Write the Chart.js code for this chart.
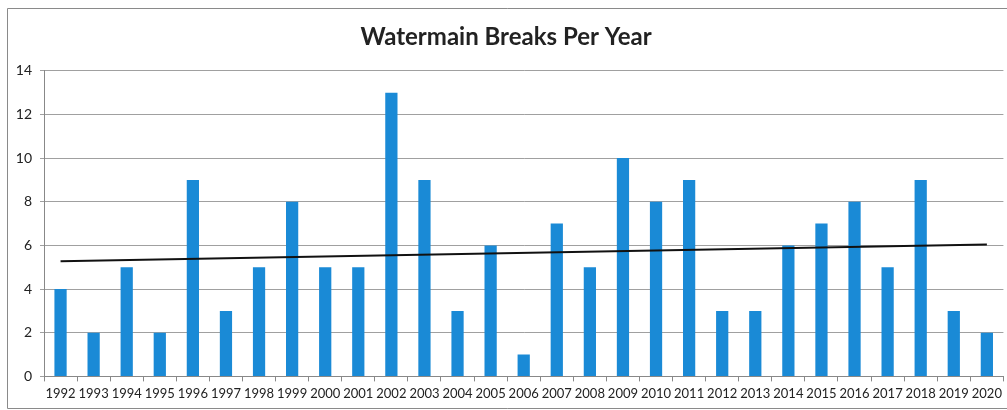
<!DOCTYPE html>
<html>
<head>
<meta charset="utf-8">
<script src="https://cdn.jsdelivr.net/npm/chart.js@4/dist/chart.umd.min.js"></script>
<style>
  html, body { margin: 0; padding: 0; background: #fff; }
  #wrap { position: relative; width: 1007px; height: 410px; }
</style>
</head>
<body>
<div id="wrap"><canvas id="breaksChart" width="1007" height="410"></canvas></div>
<script>
var years = ['1992','1993','1994','1995','1996','1997','1998','1999','2000','2001',
             '2002','2003','2004','2005','2006','2007','2008','2009','2010','2011',
             '2012','2013','2014','2015','2016','2017','2018','2019','2020'];
var breaks = [4, 2, 5, 2, 9, 3, 5, 8, 5, 5,
              13, 9, 3, 6, 1, 7, 5, 10, 8, 9,
              3, 3, 6, 7, 8, 5, 9, 3, 2];
// trend line ends
var trendStart = 5.27;
var trendEnd = 6.04;
var yTicks = [0, 2, 4, 6, 8, 10, 12, 14];

var trend = years.map(function(y, i) {
    if (i == 0) return trendStart;
    if (i == years.length - 1) return trendEnd;
    return null;
});

var fontFamily = "Lato, 'Open Sans', 'Liberation Sans', sans-serif";

// frame around the chart (left, top, bottom edges)
var framePlugin = {
    id: 'frame',
    beforeDraw: function(chart) {
        var ctx = chart.ctx;
        ctx.save();
        ctx.strokeStyle = '#8a8a8a';
        ctx.lineWidth = 1;
        ctx.beginPath();
        ctx.moveTo(1007, 8.5);
        ctx.lineTo(7.5, 8.5);
        ctx.lineTo(7.5, 408.5);
        ctx.lineTo(1007, 408.5);
        ctx.stroke();
        ctx.restore();
    }
};

var context = document.getElementById('breaksChart').getContext('2d');
var myChart = new Chart(context, {
    type: 'bar',
    data: {
        labels: years,
        datasets: [{
            type: 'line',
            data: trend,
            borderColor: '#111',
            borderWidth: 2,
            pointRadius: 0,
            spanGaps: true,
            order: 0
        }, {
            data: breaks,
            backgroundColor: '#1a8ad6',
            barPercentage: 0.37,
            categoryPercentage: 1.0,
            order: 1
        }]
    },
    plugins: [framePlugin],
    options: {
        responsive: false,
        animation: false,
        layout: { padding: { left: 8, right: 3, top: 14, bottom: 3 } },
        plugins: {
            legend: { display: false },
            tooltip: { enabled: false },
            title: {
                display: true,
                text: 'Watermain Breaks Per Year',
                color: '#222',
                font: { family: fontFamily, size: 24, weight: 'bold' },
                padding: { top: 9, bottom: 19 }
            }
        },
        scales: {
            x: {
                offset: true,
                grid: {
                    offset: true,
                    drawOnChartArea: false,
                    drawTicks: true,
                    tickLength: 5,
                    color: '#888'
                },
                border: { display: true, color: '#888' },
                ticks: {
                    color: '#222',
                    maxRotation: 0,
                    autoSkip: false,
                    padding: 5,
                    font: { family: fontFamily, size: 13 }
                }
            },
            y: {
                min: 0,
                max: 14,
                afterBuildTicks: function(scale) {
                    scale.ticks = yTicks.map(function(v) { return { value: v }; });
                },
                afterFit: function(scale) { scale.width = 36; },
                grid: {
                    color: '#a0a0a0',
                    tickLength: 4
                },
                border: { display: true, color: '#888' },
                ticks: {
                    color: '#222',
                    padding: 8,
                    font: { family: fontFamily, size: 14 }
                }
            }
        }
    }
});
</script>
</body>
</html>
